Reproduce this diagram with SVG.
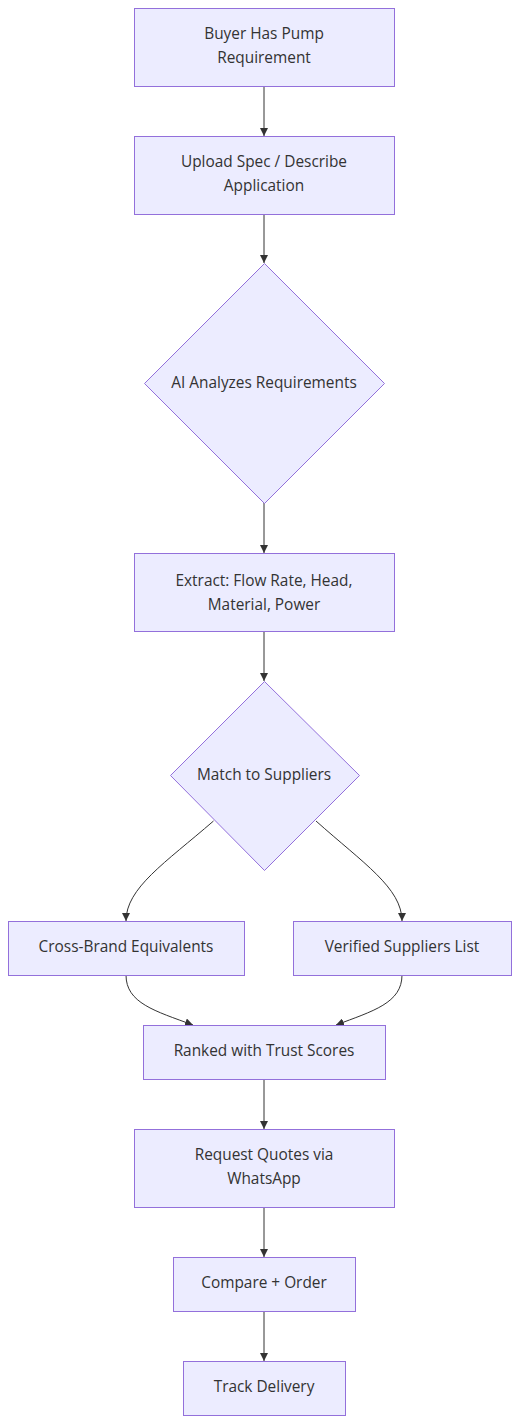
<svg xmlns="http://www.w3.org/2000/svg" width="520" height="1423" viewBox="0 0 520 1423">
<style>
.n rect, .n polygon { fill: #ECECFF; stroke: #9370DB; stroke-width: 1; }
.n text { font-family: "Open Sans", "Noto Sans", sans-serif; font-size: 15.4px; fill: #333; text-anchor: middle; dominant-baseline: central; }
.e path { fill: none; stroke: #333; stroke-width: 1; marker-end: url(#arr); }
</style>
<defs>
<marker id="arr" viewBox="0 0 10 10" refX="10" refY="5" markerWidth="8" markerHeight="8" markerUnits="userSpaceOnUse" orient="auto">
<path d="M0,0 L10,5 L0,10 z" fill="#333"/>
</marker>
</defs>
<rect width="520" height="1423" fill="#ffffff"/>
<g id="connectors" class="e">
<path d="M264,86 L264,136"/>
<path d="M264,214 L264,263"/>
<path d="M264,503 L264,553"/>
<path d="M264,631 L264,681"/>
<path d="M213.5,821 C165,863 126,888 126,921"/>
<path d="M316,821 C363,863 402,888 402,921"/>
<path d="M126,975 C126,1003 155,1011 193,1025"/>
<path d="M402,975 C402,1003 373,1011 336,1025"/>
<path d="M264,1079 L264,1129"/>
<path d="M264,1207 L264,1257"/>
<path d="M264,1311 L264,1361"/>
</g>
<g id="n1" class="n"><rect x="134.5" y="8.5" width="260" height="78"/><text x="264" y="33.5">Buyer Has Pump</text><text x="264" y="57.5">Requirement</text></g>
<g id="n2" class="n"><rect x="134.5" y="136.5" width="260" height="78"/><text x="264" y="161.5">Upload Spec / Describe</text><text x="264" y="185.5">Application</text></g>
<g id="n3" class="n"><polygon points="264.5,263.5 384.5,383.5 264.5,503.5 144.5,383.5"/><text x="264" y="382.5">AI Analyzes Requirements</text></g>
<g id="n4" class="n"><rect x="134.5" y="553.5" width="260" height="78"/><text x="264" y="580.5">Extract: Flow Rate, Head,</text><text x="264" y="604.5">Material, Power</text></g>
<g id="n5" class="n"><polygon points="264.5,681.5 359.5,775.5 264.5,870.5 170.5,775.5"/><text x="264" y="774.5">Match to Suppliers</text></g>
<g id="n6" class="n"><rect x="8.5" y="921.5" width="236" height="54"/><text x="126" y="946.5">Cross-Brand Equivalents</text></g>
<g id="n7" class="n"><rect x="293.5" y="921.5" width="218" height="54"/><text x="402" y="946.5">Verified Suppliers List</text></g>
<g id="n8" class="n"><rect x="143.5" y="1025.5" width="242" height="54"/><text x="264" y="1050.5">Ranked with Trust Scores</text></g>
<g id="n9" class="n"><rect x="134.5" y="1129.5" width="260" height="78"/><text x="264" y="1154.5">Request Quotes via</text><text x="264" y="1178.5">WhatsApp</text></g>
<g id="n10" class="n"><rect x="173.5" y="1257.5" width="182" height="54"/><text x="264" y="1282.5">Compare + Order</text></g>
<g id="n11" class="n"><rect x="183.5" y="1361.5" width="162" height="54"/><text x="264" y="1386.5">Track Delivery</text></g>
</svg>
